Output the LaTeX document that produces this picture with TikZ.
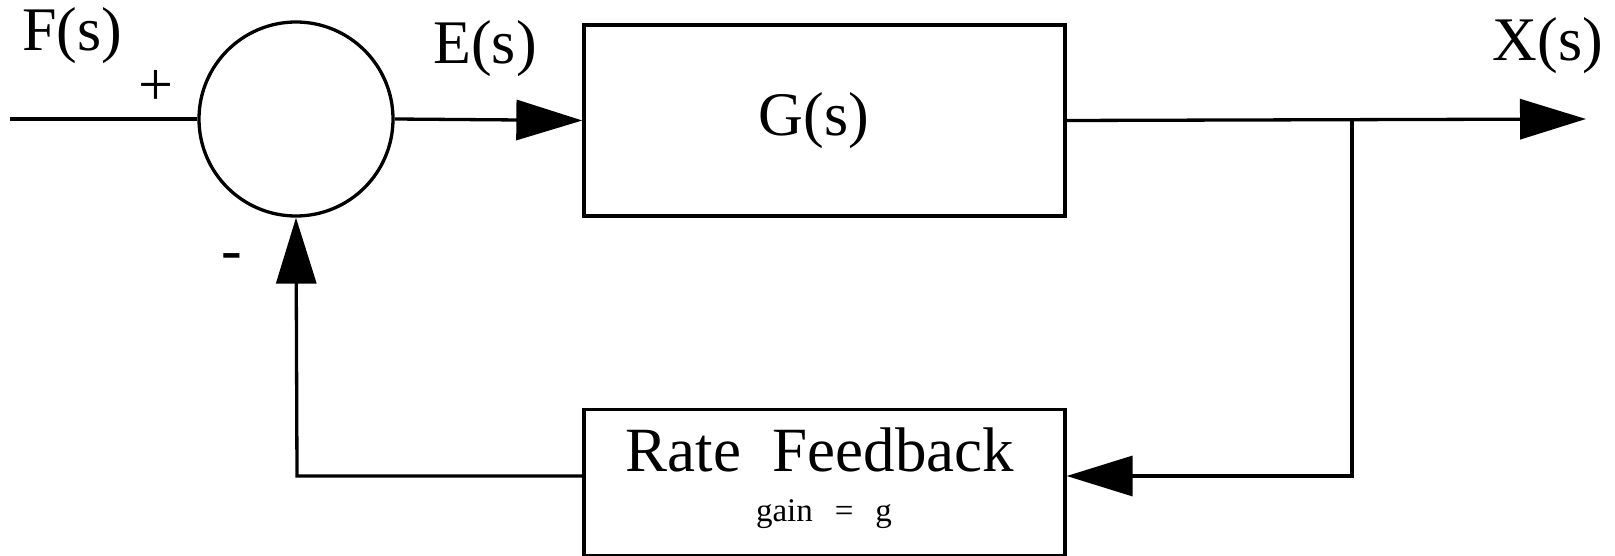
\documentclass[tikz,border=0pt]{standalone}
\usepackage{fontspec}
\setmainfont{Liberation Serif}
\usetikzlibrary{arrows.meta}
\begin{document}
\begin{tikzpicture}[x=1pt,y=-1pt,
  line width=3.3pt,
  blk/.style={draw,minimum width=481pt,inner sep=0pt},
  big/.style={font=\fontsize{62}{70}\selectfont,inner sep=0pt},
  small/.style={font=\fontsize{33}{38}\selectfont,inner sep=0pt},
  arr/.style={-{Triangle[length=66pt,width=40pt]}}]
\useasboundingbox (0,0) rectangle (1615,556);
\node[draw,circle,minimum size=194pt,inner sep=0pt] (sum) at (296,119) {};
\node[blk,minimum height=191pt] (G) at (824.5,120.5) {};
\node[big] (Gl) at (814,121) {G(s)};
\node[blk,minimum height=146pt] (H) at (824.5,482.5) {};
\node[big,font=\fontsize{63}{70}\selectfont] (Hl) at (820,450) {Rate\ \ Feedback};
\node[small] (gl) at (824,514) {gain\ \ \,=\ \ \,g};
\coordinate (in) at (10,119);
\coordinate (out) at (1586,119);
\coordinate (br) at (1352,119);
\coordinate (brd) at (1352,476);
\coordinate (fl) at (297,476);
\node[big] (F) at (72,36) {F(s)};
\node[big] (E) at (485,49) {E(s)};
\node[big] (X) at (1548,46) {X(s)};
\node[big] (plus) at (156,88) {+};
\node[big] (minus) at (232,262) {-};
\draw (in) -- (sum.west);
\draw[arr] (sum.east) -- (G.west);
\draw[arr] (G.east) -- (out);
\draw[arr] (br) -- (brd) -- (H.east |- brd);
\draw[arr] (H.west |- fl) -- (fl) -- (sum.south);
\end{tikzpicture}
\end{document}
